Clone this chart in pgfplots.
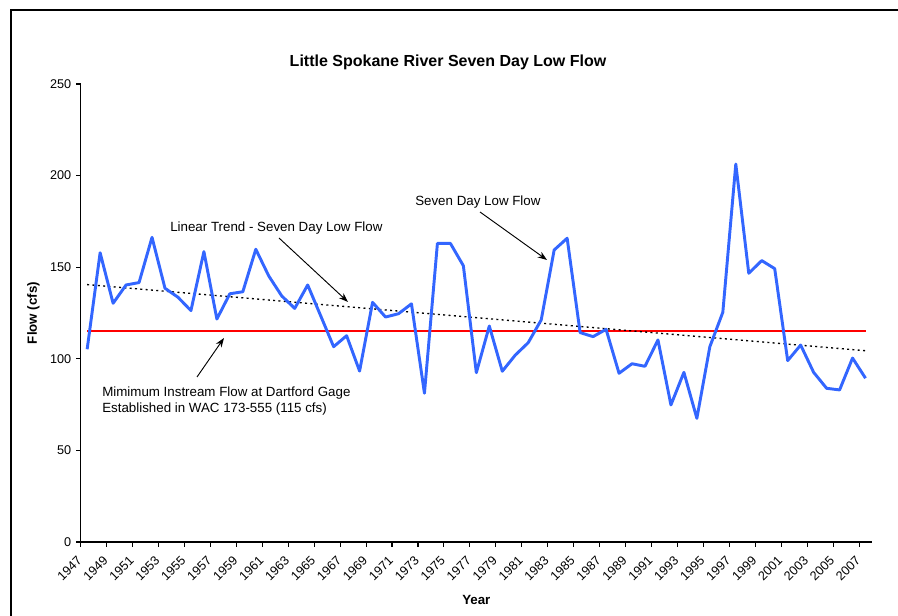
\documentclass[border=0pt]{standalone}
\usepackage{fontspec}
\setmainfont{Liberation Sans}
\usepackage{pgfplots}
\pgfplotsset{compat=1.18}
\usetikzlibrary{arrows.meta}

\definecolor{flowblue}{RGB}{51,102,255}
\definecolor{minred}{RGB}{255,0,0}

\begin{document}
\begin{tikzpicture}
% page = 898 x 616 px, 1px = 0.75pt
\path[use as bounding box] (0,0) rectangle (673.5pt,462pt);

\begin{axis}[
    at={(60.5pt,55.5pt)}, anchor=south west,
    scale only axis,
    width=593.5pt, height=343.5pt,
    xmin=1946.5, xmax=2007.5,
    ymin=0, ymax=250,
    axis lines*=left,
    axis line style={black, line width=0.8pt},
    tick align=outside,
    major tick length=3.5pt,
    tick style={black, line width=0.8pt},
    ytick={0,50,100,150,200,250},
    xtick={1946.5,1948.5,...,2006.5},
    xticklabels={1947,1949,1951,1953,1955,1957,1959,1961,1963,1965,1967,1969,1971,1973,1975,1977,1979,1981,1983,1985,1987,1989,1991,1993,1995,1997,1999,2001,2003,2005,2007},
    xticklabel style={xshift=0pt, yshift=-8pt, rotate=45, anchor=east, font=\fontsize{9.5}{11}\selectfont, inner sep=1pt},
    yticklabel style={font=\fontsize{9.5}{11}\selectfont},
    /pgf/number format/assume math mode=true,
    xlabel={\textbf{Year}},
    ylabel={\textbf{Flow (cfs)}},
    xlabel style={font=\fontsize{10}{12}\selectfont, at={(axis description cs:0.5,0)}, anchor=center, yshift=-43.5pt},
    ylabel style={font=\fontsize{10}{12}\selectfont, yshift=1pt},
    clip=false,
    cycle list={{minred},{black},{flowblue}},
]

% minimum instream flow
\addplot+[color=minred, solid, no marks, line width=1.3pt] table {
x y
1947 115
2007 115
};

% linear trend
\addplot+[color=black, no marks, line width=1pt, dash pattern=on 1.5pt off 2.5pt] table {
x y
1947 140.5
2007 104.4
};

% seven day low flow
\addplot+[color=flowblue, solid, no marks, line width=2.2pt, line join=round] coordinates {
(1947,105.2) (1948,157.9) (1949,130.3) (1950,140.3) (1951,141.6) (1952,166.3)
(1953,138.5) (1954,133.6) (1955,126.3) (1956,158.5) (1957,121.7) (1958,135.5)
(1959,136.6) (1960,159.8) (1961,145.2) (1962,134.3) (1963,127.5) (1964,140.3)
(1965,123.5) (1966,106.6) (1967,112.6) (1968,93.3) (1969,130.8) (1970,122.8)
(1971,124.6) (1972,130.0) (1973,81.2) (1974,163.0) (1975,163.0) (1976,150.8)
(1977,92.4) (1978,117.9) (1979,93.2) (1980,102.0) (1981,108.8) (1982,121.2)
(1983,159.4) (1984,165.8) (1985,114.3) (1986,112.1) (1987,116.1) (1988,92.1)
(1989,97.3) (1990,95.9) (1991,110.3) (1992,74.8) (1993,92.6) (1994,67.5)
(1995,106.6) (1996,125.4) (1997,206.3) (1998,146.7) (1999,153.6) (2000,149.2)
(2001,99.0) (2002,107.5) (2003,92.6) (2004,83.9) (2005,83.0) (2006,100.4)
(2007,89.4)
};
\end{axis}

% annotations in pixel coordinates, y measured from the top
\begin{scope}[x=0.75pt, y=-0.75pt, yshift=462pt]
  \draw[black, line width=0.8pt] (11,640) -- (11,10) -- (920,10);
  \node[font=\fontsize{12}{14}\selectfont\bfseries] at (448,62) {Little Spokane River Seven Day Low Flow};

  \node[anchor=west, font=\fontsize{10}{12}\selectfont, inner sep=0pt] at (170,228) {Linear Trend - Seven Day Low Flow};
  \draw[-{Stealth[length=7pt,width=5pt]}, line width=0.7pt] (279,238) -- (348,302);

  \node[anchor=west, font=\fontsize{10}{12}\selectfont, inner sep=0pt] at (415,202) {Seven Day Low Flow};
  \draw[-{Stealth[length=7pt,width=5pt]}, line width=0.7pt] (480,212) -- (547,260);

  \node[anchor=west, font=\fontsize{10}{12}\selectfont, inner sep=0pt] at (102,393) {Mimimum Instream Flow at Dartford Gage};
  \node[anchor=west, font=\fontsize{10}{12}\selectfont, inner sep=0pt] at (102,409) {Established in WAC 173-555 (115 cfs)};
  \draw[-{Stealth[length=7pt,width=5pt]}, line width=0.7pt] (197,377) -- (224,338);
\end{scope}
\end{tikzpicture}
\end{document}
